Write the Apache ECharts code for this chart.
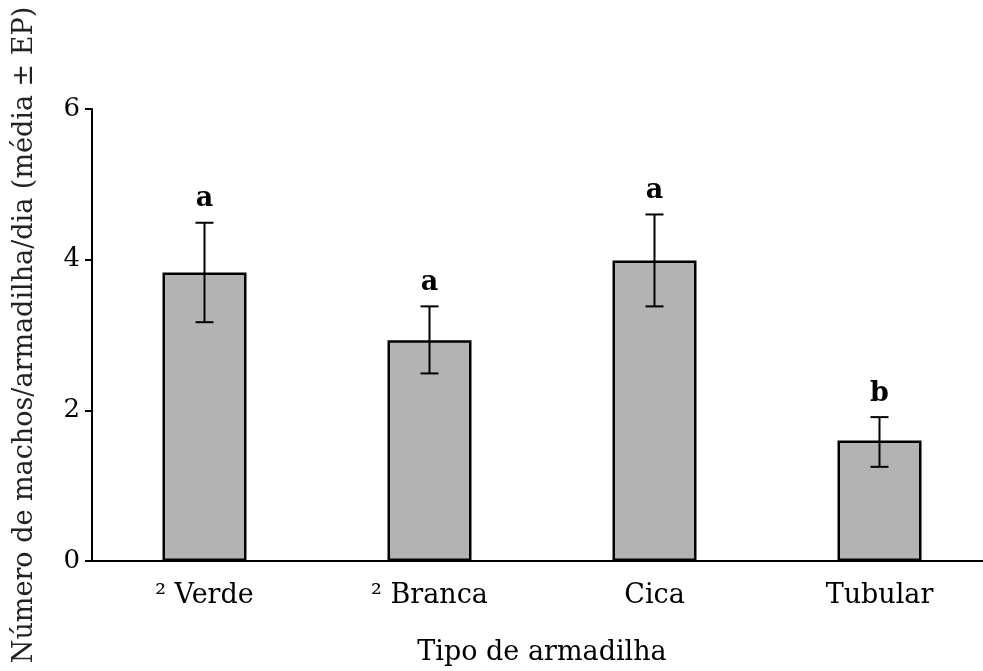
<!DOCTYPE html>
<html><head><meta charset="utf-8">
<script src="https://cdn.jsdelivr.net/npm/echarts@6/dist/echarts.min.js"></script>
<style>html,body{margin:0;padding:0;background:#fff;overflow:hidden}#c{width:992px;height:671px}</style>
</head><body><div id="c"></div>
<script>
const categories = ['² Verde', '² Branca', 'Cica', 'Tubular'];
const means = [3.83, 2.93, 3.99, 1.60];
const upper = [4.49, 3.38, 4.60, 1.91];
const lower = [3.17, 2.49, 3.38, 1.25];
const letters = ['a', 'a', 'a', 'b'];
const yTicks = [0, 2, 4, 6];

const FONT = 'DejaVu Serif';
const chart = echarts.init(document.getElementById('c'));
chart.setOption({
  animation: false,
  backgroundColor: '#fff',
  grid: { left: 92, top: 109, bottom: 110, right: 0 },
  xAxis: {
    type: 'category', data: categories,
    axisLine: { lineStyle: { color: '#000', width: 2 } },
    axisTick: { alignWithLabel: true, length: 8, lineStyle: { color: '#000', width: 2 } },
    axisLabel: { color: '#000', fontFamily: FONT, fontSize: 27, margin: 21 },
    name: 'Tipo de armadilha', nameLocation: 'middle', nameGap: 78,
    nameTextStyle: { color: '#000', fontFamily: FONT, fontSize: 27 }
  },
  yAxis: {
    type: 'value', min: yTicks[0], max: yTicks[yTicks.length - 1], interval: 2,
    splitLine: { show: false },
    axisLine: { show: true, lineStyle: { color: '#000', width: 2 } },
    axisTick: { show: true, length: 7, lineStyle: { color: '#000', width: 2 } },
    axisLabel: { color: '#000', fontFamily: FONT, fontSize: 26, margin: 12 },
    name: 'Número de machos/armadilha/dia (média ± EP)', nameLocation: 'middle', nameGap: 54,
    nameTextStyle: { color: '#222', fontFamily: FONT, fontSize: 27 }
  },
  series: [
    {
      type: 'bar', data: means, barWidth: 84,
      itemStyle: { color: '#b3b3b3', borderColor: '#000', borderWidth: 2.5 }
    },
    {
      type: 'custom',
      data: categories.map((c, i) => [i, lower[i], upper[i], letters[i]]),
      renderItem: function (params, api) {
        const x = api.value(0);
        const lo = api.coord([x, api.value(1)]);
        const hi = api.coord([x, api.value(2)]);
        const hw = 9;
        const st = { stroke: '#000', lineWidth: 2 };
        return {
          type: 'group',
          children: [
            { type: 'line', shape: { x1: hi[0], y1: hi[1], x2: lo[0], y2: lo[1] }, style: st },
            { type: 'line', shape: { x1: hi[0] - hw, y1: hi[1], x2: hi[0] + hw, y2: hi[1] }, style: st },
            { type: 'line', shape: { x1: lo[0] - hw, y1: lo[1], x2: lo[0] + hw, y2: lo[1] }, style: st },
            { type: 'text', style: { text: letters[params.dataIndex], x: hi[0], y: hi[1] - 10,
                align: 'center', verticalAlign: 'bottom', fill: '#000',
                font: 'bold 27px "' + FONT + '"' } }
          ]
        };
      },
      z: 5
    }
  ]
});
</script></body></html>
